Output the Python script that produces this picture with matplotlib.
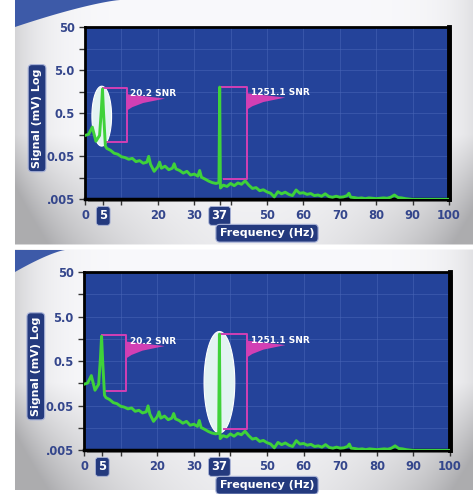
import numpy as np
import matplotlib
matplotlib.use("Agg")
import matplotlib.pyplot as plt
from matplotlib.patches import Rectangle, Polygon
from matplotlib.ticker import FixedLocator, FixedFormatter, NullLocator

# spectrum (Hz, mV)
freq = [0, 1, 2, 3, 4, 4.5, 4.8, 5.1, 5.6, 6, 7, 8, 9, 10, 11, 12, 13, 14, 15, 16,
        17, 17.5, 18, 19, 20, 20.5, 21, 22, 23, 24, 24.5, 25, 26, 27, 28, 29, 30,
        31, 31.5, 32, 33, 34, 35, 36, 36.8, 37.0, 37.2, 38, 39, 40, 41, 42, 43, 44,
        45, 46, 47, 48, 49, 50, 51, 52, 53, 54, 55, 56, 57, 58, 59, 60, 61, 62, 63,
        64, 65, 66, 67, 68, 69, 70, 71, 72, 72.5, 73, 74, 75, 76, 77, 78, 79, 80,
        81, 82, 83, 84, 85, 86, 87, 88, 89, 90, 92, 94, 96, 98, 100]
signal_mv = [0.15, 0.16, 0.235, 0.11, 0.15, 0.6, 1.8, 0.5, 0.085, 0.075, 0.068,
             0.058, 0.055, 0.048, 0.046, 0.042, 0.044, 0.037, 0.039, 0.034,
             0.036, 0.049, 0.032, 0.022, 0.028, 0.036, 0.026, 0.029, 0.024, 0.026,
             0.033, 0.025, 0.023, 0.020, 0.022, 0.018, 0.019, 0.017, 0.023, 0.016,
             0.0145, 0.013, 0.012, 0.0115, 0.012, 2.0, 0.009, 0.0105, 0.0098,
             0.0115, 0.0102, 0.0118, 0.011, 0.0132, 0.0105, 0.0088, 0.0092, 0.0078,
             0.0082, 0.0073, 0.0068, 0.0056, 0.0074, 0.0066, 0.0072, 0.0064, 0.006,
             0.0081, 0.0068, 0.007, 0.0064, 0.0067, 0.006, 0.0062, 0.0058, 0.0066,
             0.0057, 0.0055, 0.0058, 0.0055, 0.0056, 0.006, 0.0068, 0.0055, 0.0054,
             0.0052, 0.0053, 0.0051, 0.0053, 0.0052, 0.0051, 0.0052, 0.0053, 0.0052,
             0.0055, 0.0062, 0.0054, 0.0053, 0.0051, 0.005, 0.0049, 0.0049, 0.0049,
             0.0049, 0.0049, 0.0049]

x_ticks = [0, 5, 10, 20, 30, 37, 40, 50, 60, 70, 80, 90, 100]
x_labels = ["0", "5", "", "20", "30", "37", "", "50", "60", "70", "80", "90", "100"]
boxed_x = ["5", "37"]
y_ticks = [0.005, 0.0158, 0.05, 0.158, 0.5, 1.58, 5.0, 15.8, 50]
y_labels = [".005", "", "0.05", "", "0.5", "", "5.0", "", "50"]

peak_freq = [4.8, 37.0]
peak_mv = [1.9, 2.0]
snr_text = ["20.2 SNR", "1251.1 SNR"]
bracket_right = [11.5, 44.5]
bracket_floor = [0.105, 0.0145]

NAVY = "#34468c"
BOX = "#243a7e"
PLOT_BG = "#24439a"
GREEN = "#3fd23a"
MAGENTA = "#d23fb4"

W, H = 477, 494
fig = plt.figure(figsize=(W / 100, H / 100), dpi=100)
fig.patch.set_facecolor("white")

# backdrop: pale grey shading + blue swoosh in each panel corner
bg = fig.add_axes([0, 0, 1, 1], zorder=-10)
bg.set_xlim(0, W)
bg.set_ylim(H, 0)
bg.axis("off")
img = np.ones((H, W, 3))
xx, yy = np.meshgrid(np.arange(W), np.arange(H))
for top, bot in [(0, 245), (250, 490)]:
    u = (xx - 250) / 230.0
    v = (yy - top) / (bot - top)
    shade = 0.32 * np.clip(v - 0.55, 0, None) / 0.45 * (0.15 + 0.85 * u ** 2) + 0.12 * u ** 8
    shade = np.clip(shade, 0, 0.3)
    m = (yy >= top) & (yy < bot) & (xx >= 15) & (xx < 473)
    for c, base in enumerate([0.975, 0.975, 0.985]):
        img[..., c] = np.where(m, base - shade, img[..., c])
bg.imshow(img, extent=[0, W, H, 0], aspect="auto")
sx = np.linspace(15, 120, 30)
bg.add_patch(Polygon(np.column_stack([np.r_[sx, 15], np.r_[27 * (1 - (sx - 15) / 105) ** 1.3, 0]]),
                     closed=True, fc="#3d5aa8", ec="none"))
sx2 = np.linspace(15, 65, 20)
bg.add_patch(Polygon(np.column_stack([np.r_[sx2, 15], np.r_[250 + 22 * (1 - (sx2 - 15) / 50) ** 1.3, 250]]),
                     closed=True, fc="#3d5aa8", ec="none"))

panels = [
    dict(rect=[85 / W, 1 - 199 / H, 364 / W, 172 / H], hl=0),
    dict(rect=[84 / W, 1 - 450 / H, 366 / W, 178 / H], hl=1),
]

for p in panels:
    l, b, w, h = p["rect"]
    # drop shadow behind the frame
    fig.patches.append(Rectangle((l + 3 / W, b - 3 / H), w, h, transform=fig.transFigure,
                                 fc="#555555", ec="none", alpha=0.6, zorder=-5))
    ax = fig.add_axes(p["rect"])
    ax.set_facecolor(PLOT_BG)
    ax.set_yscale("log")
    ax.set_xlim(0, 100)
    ax.set_ylim(0.005, 50)

    for f in range(10, 100, 10):
        ax.axvline(f, color="#4a68b8", lw=0.6, alpha=0.6, zorder=0)
    for t in y_ticks[1:-1]:
        ax.axhline(t, color="#4a68b8", lw=0.6, alpha=0.6, zorder=0)

    # highlight ellipse around one peak
    k = p["hl"]
    if k == 0:
        cx, a, ly0, ly1 = 4.6, 2.7, np.log10(0.085), np.log10(2.1)
    else:
        cx, a, ly0, ly1 = 37.0, 4.2, np.log10(0.012), np.log10(2.3)
    t = np.linspace(0, 2 * np.pi, 100)
    ax.fill(cx + a * np.cos(t), 10 ** ((ly0 + ly1) / 2 + (ly1 - ly0) / 2 * np.sin(t)),
            color="#e3f3f2", ec="white", lw=0.8, zorder=2)

    # SNR brackets
    for i in range(2):
        pf, pm, br, fl = peak_freq[i], peak_mv[i], bracket_right[i], bracket_floor[i]
        ax.plot([pf + 0.2, br, br, pf + 1.2], [pm, pm, fl, fl], color=MAGENTA, lw=1.4, zorder=3)
        tip = br + 10.5
        ax.add_patch(Polygon([(br, pm * 0.72), (tip, pm * 0.57), (br + 4.5, pm * 0.45),
                              (br + 1.5, pm * 0.36), (br, pm * 0.3)],
                             closed=True, fc=MAGENTA, ec="none", zorder=3))
        ax.text(br + 1.0, pm * 0.74, snr_text[i], color="white", fontsize=6.5,
                fontweight="bold", va="center", ha="left", zorder=4)

    ax.plot(freq, signal_mv, color=GREEN, lw=2.1, zorder=5, solid_joinstyle="round")

    ax.xaxis.set_major_locator(FixedLocator(x_ticks))
    ax.xaxis.set_major_formatter(FixedFormatter(x_labels))
    ax.yaxis.set_major_locator(FixedLocator(y_ticks))
    ax.yaxis.set_major_formatter(FixedFormatter(y_labels))
    ax.yaxis.set_minor_locator(NullLocator())
    ax.tick_params(axis="both", colors="#333333", labelcolor=NAVY, labelsize=8.3,
                   length=4, width=1)
    for lab in ax.get_xticklabels() + ax.get_yticklabels():
        lab.set_fontweight("bold")
        if lab.get_text() in boxed_x and lab in ax.get_xticklabels():
            lab.set_color("white")
            lab.set_bbox(dict(boxstyle="round,pad=0.25", fc=BOX, ec="#aab4d8", lw=0.6))

    for s in ["top", "right", "bottom", "left"]:
        ax.spines[s].set_color("black")
    ax.spines["top"].set_linewidth(2)
    ax.spines["right"].set_linewidth(3.5)
    ax.spines["bottom"].set_linewidth(2.5)
    ax.spines["left"].set_linewidth(2)

    lab_box = dict(boxstyle="round,pad=0.35", fc=BOX, ec="#aab4d8", lw=0.8)
    ax.set_ylabel("Signal (mV) Log", color="white", fontsize=8, fontweight="bold", bbox=lab_box)
    ax.yaxis.set_label_coords(-0.118, 0.47)
    ax.set_xlabel("Frequency (Hz)", color="white", fontsize=8, fontweight="bold", bbox=lab_box)
    ax.xaxis.set_label_coords(0.5, -0.17)

fig.savefig("out.png", dpi=100)
